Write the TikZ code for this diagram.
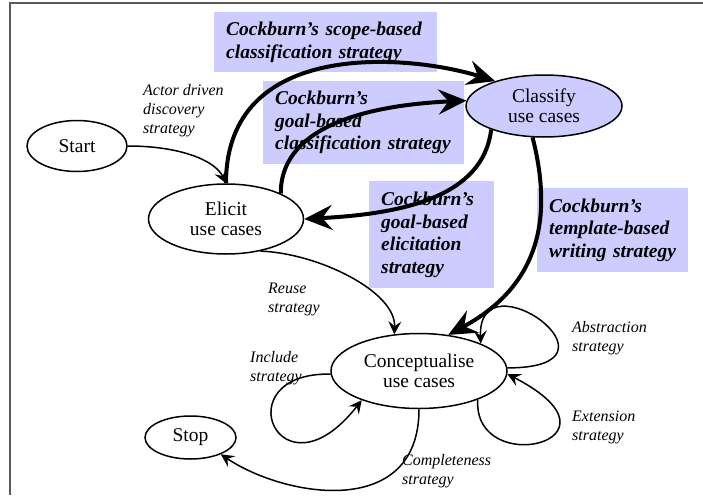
\documentclass[tikz,border=0pt]{standalone}
\usepackage{fontspec}
\setmainfont{Liberation Serif}
\usetikzlibrary{shapes.geometric,arrows.meta}
\definecolor{lilac}{HTML}{CCCCFF}
\definecolor{framegray}{HTML}{5A5A5A}
\begin{document}
\begin{tikzpicture}[x=1pt,y=-1pt,
    phase/.style={draw,ellipse,line width=1.5pt,inner sep=0pt,align=center,font=\fontsize{19.5}{20}\selectfont},
    strat/.style={anchor=north west,inner sep=0pt,align=left,font=\fontsize{16}{19}\selectfont\itshape},
    cock/.style={fill=lilac,anchor=north west,inner xsep=12pt,inner ysep=0pt,align=left,font=\fontsize{19.5}{22.5}\selectfont\bfseries\itshape},
    flow/.style={line width=1.5pt,-{Stealth[length=13pt,width=13pt,inset=5pt]}},
    bigflow/.style={line width=4pt,-{Stealth[length=28pt,width=25pt,inset=10pt]}}]
                \useasboundingbox (0,0) rectangle (703,495);
                \draw[line width=2pt,framegray] (10,495) -- (10,3.5) -- (703,3.5);
                \node[cock,text width=199pt,minimum height=60pt] (Scope) at (214,12) {Cockburn’s~scope-based\\classification~strategy};
                \node[cock,text width=177pt,minimum height=83pt] (GoalClass) at (263,81) {Cockburn’s\\goal-based\\classification~strategy};
                \node[cock,text width=101pt,minimum height=107pt] (GoalElic) at (369,181) {Cockburn’s\\goal-based\\elicitation\\strategy};
                \node[cock,text width=127pt,minimum height=84pt] (Template) at (537,188) {Cockburn’s\\template-based\\writing~strategy};
                \node[phase,minimum width=100pt,minimum height=51pt] (Start) at (77,146) {Start};
                \node[phase,minimum width=155pt,minimum height=70pt] (Elicit) at (226,219) {Elicit\\use cases};
                \node[phase,fill=lilac,minimum width=156pt,minimum height=62pt] (Classify) at (544,106) {Classify\\use cases};
                \node[phase,minimum width=176pt,minimum height=75pt] (Concept) at (419,371) {Conceptualise\\use cases};
                \node[phase,minimum width=91pt,minimum height=43pt] (Stop) at (190.5,437.5) {Stop};
                \node[strat] (Actor) at (143,84) {Actor driven\\discovery\\strategy};
                \node[strat] (Reuse) at (268,283) {Reuse\\strategy};
                \node[strat] (Include) at (250,351) {Include\\strategy};
                \node[strat] (Abstr) at (572,321) {Abstraction\\strategy};
                \node[strat] (Ext) at (572,411) {Extension\\strategy};
                \node[strat] (Compl) at (402,454) {Completeness\\strategy};
                \draw[flow] (Start.east) .. controls +(52,0) and +(-11,-23) .. (Elicit.north);
                \draw[bigflow] (Elicit.north) .. controls +(0,-145) and +(-87,-27) .. (Classify.153);
                \draw[bigflow] (Elicit.25) .. controls +(0,-73) and +(-84,4) .. (Classify.176);
                \draw[bigflow] (Classify.204) .. controls +(-8,69) and +(94,-5) .. (Elicit.east);
                \draw[bigflow] (Classify.250) .. controls +(18,71) and +(98,-53) .. (Concept.51);
                \draw[flow] (Elicit.317) .. controls +(57,2) and +(2,-43) .. (Concept.124);
                \draw[flow] (Concept.2) .. controls +(130,0) and +(-3,-90) .. (Concept.24);
                \draw[flow] (Concept.-26) .. controls +(-5,80) and +(130,67) .. (Concept.-2);
                \draw[flow] (Concept.182) .. controls +(-108,-2) and +(-82,105) .. (Concept.207);
                \draw[flow] (Concept.south) .. controls +(0,111) and +(64,43) .. (Stop.-29);
            \end{tikzpicture}
\end{document}
